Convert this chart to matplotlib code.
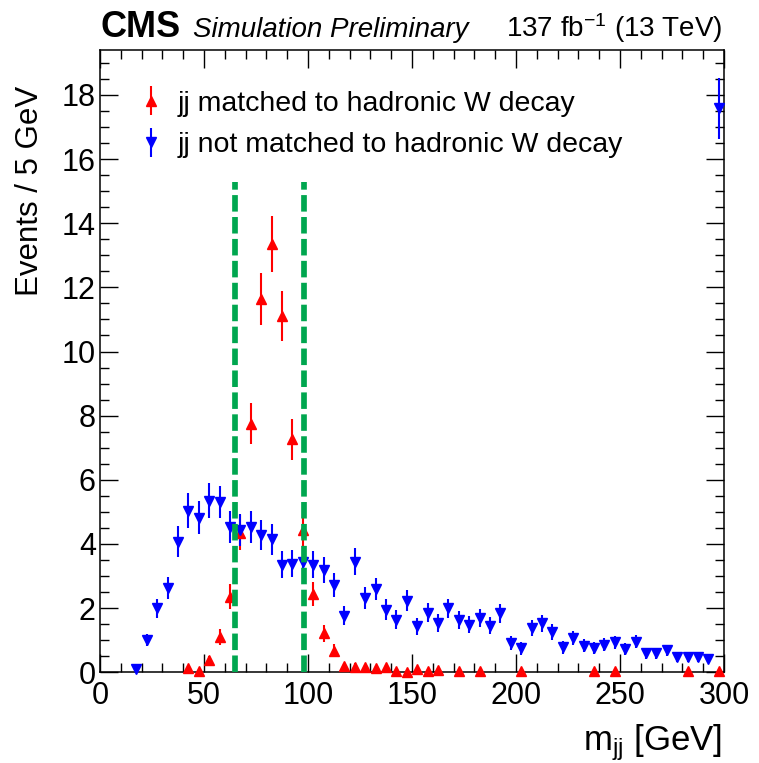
import matplotlib
matplotlib.use('Agg')
import matplotlib.pyplot as plt
from matplotlib.ticker import MultipleLocator

plt.rcParams['font.family'] = ['Liberation Sans', 'DejaVu Sans']
plt.rcParams['mathtext.fontset'] = 'custom'
plt.rcParams['mathtext.rm'] = 'Liberation Sans'
plt.rcParams['mathtext.it'] = 'Liberation Sans:italic'

# bin centres (5 GeV bins) and contents
matched_x = [42.5, 47.5, 52.5, 57.5, 62.5, 67.5, 72.5, 77.5, 82.5, 87.5, 92.5, 97.5,
             102.5, 107.5, 112.5, 117.5, 122.5, 127.5, 132.5, 137.5, 142.5, 147.5,
             152.5, 157.5, 162.5, 172.5, 182.5, 202.5, 237.5, 247.5, 282.5, 297.5]
matched_y = [0.13, 0.03, 0.39, 1.10, 2.36, 4.35, 7.75, 11.64, 13.35, 11.10, 7.26, 4.43,
             2.44, 1.22, 0.67, 0.20, 0.18, 0.15, 0.13, 0.15, 0.03, 0.01,
             0.10, 0.03, 0.08, 0.03, 0.03, 0.03, 0.03, 0.03, 0.03, 0.03]
matched_err = [0.06, 0.03, 0.12, 0.25, 0.39, 0.55, 0.64, 0.80, 0.86, 0.78, 0.64, 0.50,
               0.38, 0.27, 0.20, 0.10, 0.10, 0.09, 0.08, 0.09, 0.03, 0.02,
               0.07, 0.03, 0.06, 0.03, 0.03, 0.03, 0.03, 0.03, 0.03, 0.03]

notmatched_x = [17.5, 22.5, 27.5, 32.5, 37.5, 42.5, 47.5, 52.5, 57.5, 62.5, 67.5, 72.5,
                77.5, 82.5, 87.5, 92.5, 97.5, 102.5, 107.5, 112.5, 117.5, 122.5, 127.5,
                132.5, 137.5, 142.5, 147.5, 152.5, 157.5, 162.5, 167.5, 172.5, 177.5,
                182.5, 187.5, 192.5, 197.5, 202.5, 207.5, 212.5, 217.5, 222.5, 227.5,
                232.5, 237.5, 242.5, 247.5, 252.5, 257.5, 262.5, 267.5, 272.5, 277.5,
                282.5, 287.5, 292.5, 297.5]
notmatched_y = [0.10, 1.00, 2.00, 2.62, 4.07, 5.04, 4.82, 5.35, 5.30, 4.54, 4.43, 4.54,
                4.28, 4.15, 3.35, 3.38, 3.45, 3.35, 3.19, 2.72, 1.76, 3.45, 2.31,
                2.59, 1.95, 1.64, 2.23, 1.43, 1.86, 1.53, 2.00, 1.64, 1.48,
                1.69, 1.45, 1.84, 0.91, 0.75, 1.38, 1.53, 1.27, 0.78, 1.07,
                0.83, 0.75, 0.86, 0.93, 0.72, 0.96, 0.60, 0.60, 0.68, 0.48,
                0.48, 0.48, 0.43, 17.59]
notmatched_err = [0.08, 0.18, 0.30, 0.35, 0.48, 0.54, 0.52, 0.55, 0.50, 0.50, 0.50, 0.50,
                  0.48, 0.48, 0.42, 0.42, 0.42, 0.42, 0.40, 0.37, 0.30, 0.42, 0.35,
                  0.35, 0.32, 0.30, 0.33, 0.27, 0.30, 0.28, 0.30, 0.28, 0.27,
                  0.28, 0.27, 0.30, 0.21, 0.20, 0.26, 0.27, 0.25, 0.20, 0.23,
                  0.20, 0.19, 0.20, 0.21, 0.19, 0.21, 0.17, 0.17, 0.18, 0.15,
                  0.15, 0.15, 0.14, 0.95]

window = [65, 98]
window_top = 15.3

fig = plt.figure(figsize=(7.59, 7.63), dpi=100)
ax = fig.add_axes([100 / 759, 1 - 672.3 / 763, 624 / 759, 622.3 / 763])

m = ax.errorbar(matched_x, matched_y, yerr=matched_err, fmt='^', color='#ff0000',
                ms=7.5, elinewidth=1.5, capsize=0, clip_on=False, zorder=3,
                label='jj matched to hadronic W decay')
n = ax.errorbar(notmatched_x, notmatched_y, yerr=notmatched_err, fmt='v', color='#0000ff',
                ms=7.5, elinewidth=1.5, capsize=0, clip_on=False, zorder=3,
                label='jj not matched to hadronic W decay')

for w in window:
    ax.plot([w, w], [0, window_top], color='#00a64f', lw=4.1, dashes=(2.9, 0.95), zorder=4)

ax.set_xlim(0, 300)
ax.set_ylim(0, 19.4)
ax.xaxis.set_major_locator(MultipleLocator(50))
ax.xaxis.set_minor_locator(MultipleLocator(10))
ax.yaxis.set_major_locator(MultipleLocator(2))
ax.yaxis.set_minor_locator(MultipleLocator(0.5))
ax.tick_params(which='both', direction='in', top=True, right=True, width=1)
ax.tick_params(which='major', length=13)
ax.tick_params(which='minor', length=6.5)
ax.tick_params(axis='x', labelsize=22, pad=6)
ax.tick_params(axis='y', labelsize=22, pad=3)
for s in ax.spines.values():
    s.set_linewidth(1.1)

fig.text(30 / 759, 1 - 86 / 763, 'Events / 5 GeV', rotation=90, ha='center', va='top', fontsize=22.5)
fig.text(722 / 759, 1 - 750 / 763, 'm$_{\\mathrm{jj}}$ [GeV]', ha='right', va='baseline', fontsize=25)

fig.text(100 / 759, 1 - 37 / 763, 'CMS', fontsize=26, fontweight='bold', va='baseline')
fig.text(193 / 759, 1 - 37 / 763, 'Simulation Preliminary', fontsize=20, style='italic', va='baseline')
fig.text(722 / 759, 1 - 37 / 763, '137 fb$^{\\mathrm{-1}}$ (13 TeV)', fontsize=20, ha='right', va='baseline')

ax.legend(handles=[m, n], loc='upper left', bbox_to_anchor=(0.049, 0.953), frameon=False,
          fontsize=20.5, handlelength=0.6, handletextpad=0.65, labelspacing=0.55,
          borderaxespad=0)

fig.savefig('out.png', dpi=100)
